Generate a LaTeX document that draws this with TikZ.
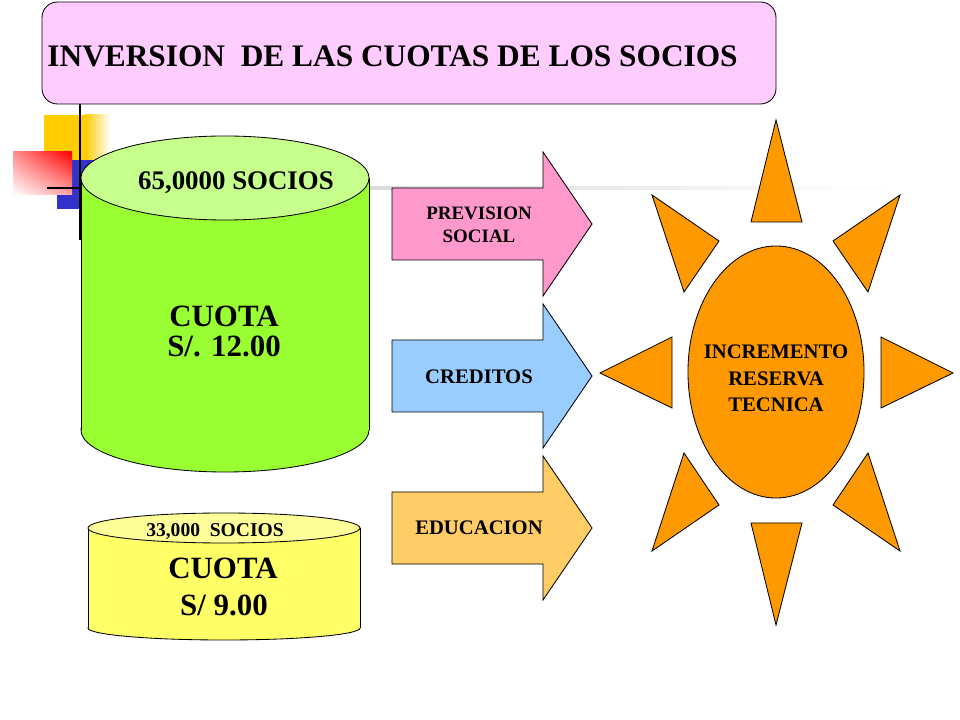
\documentclass[tikz,border=0pt]{standalone}
\usepackage{fontspec}
\setmainfont{Liberation Serif}
\usepackage{xcolor}
\usepackage{tikz}
\usetikzlibrary{shapes.geometric,shadings}

\definecolor{titlepink}{HTML}{FFCCFF}
\definecolor{cylgreen}{HTML}{99FF33}
\definecolor{cyltopgreen}{HTML}{C6FF8C}
\definecolor{cylyellow}{HTML}{FFFF66}
\definecolor{cyltopyellow}{HTML}{FFFF99}
\definecolor{arwpink}{HTML}{FF99CC}
\definecolor{arwblue}{HTML}{99CCFF}
\definecolor{arwgold}{HTML}{FFCC66}
\definecolor{sunorange}{HTML}{FF9900}
\definecolor{decoyellow}{HTML}{FFCC00}
\definecolor{decoblue}{HTML}{3333CC}

\begin{document}
\begin{tikzpicture}[x=0.025cm, y=-0.025cm, line width=0.6pt,
  txt/.style={anchor=base, inner sep=0pt},
  bigtxt/.style={txt, font=\bfseries\fontsize{22}{26}\selectfont},
  arwtxt/.style={txt, font=\bfseries\fontsize{14.7}{17}\selectfont}]
          \useasboundingbox (0,0) rectangle (960,720);

          \fill[decoyellow] (44,115) rectangle (86,160);
          \shade[left color=decoyellow, right color=white] (85,115) rectangle (110,160);
          \fill[decoblue] (57,160) rectangle (100,209);
          \shade[upper left=red!45, upper right=red, lower left=white, lower right=red!35] (13,152) rectangle (72,195);
          \shade[left color=gray!45, middle color=gray!40, right color=white] (80,186.5) rectangle (900,189.5);
          \draw[line width=1.6pt] (80,104) -- (80,240);
          \draw[line width=1.6pt] (47,188) -- (80,188);

          \filldraw[fill=titlepink, rounded corners=11pt] (42,2) rectangle (776,104);
          \node[txt, anchor=base west, font=\bfseries\fontsize{22.3}{26}\selectfont] (title) at (47,67) {INVERSION\ \ DE LAS CUOTAS DE LOS SOCIOS};

          \filldraw[fill=cylgreen] (225,430) ellipse (3.6cm and 1.05cm);
          \fill[cylgreen] (81,178) rectangle (369,430);
          \draw (81,178) -- (81,430) (369,178) -- (369,430);
          \filldraw[fill=cyltopgreen] (225,178) ellipse (3.6cm and 1.05cm);
          \node[txt, font=\bfseries\fontsize{19.1}{22}\selectfont] (socios1) at (236,190) {65,0000 SOCIOS};
          \node[bigtxt] (cuota1) at (224,327) {CUOTA};
          \node[bigtxt] (monto1) at (224,357) {S/. 12.00};

          \filldraw[fill=cylyellow] (224,628) ellipse (3.4cm and 0.3cm);
          \fill[cylyellow] (88,528) rectangle (360,628);
          \draw (88,528) -- (88,628) (360,528) -- (360,628);
          \filldraw[fill=cyltopyellow] (224,528) ellipse (3.4cm and 0.375cm);
          \node[txt, font=\bfseries\fontsize{13.9}{16}\selectfont] (socios2) at (215,537) {33,000\ \ SOCIOS};
          \node[bigtxt] (cuota2) at (223,578) {CUOTA};
          \node[bigtxt] (monto2) at (224,615) {S/ 9.00};

          \foreach \yc\col in {224/arwpink, 376/arwblue, 528/arwgold}{%
            \filldraw[fill=\col] (392,\yc-36) -- (543,\yc-36) -- (543,\yc-72) -- (592,\yc)
              -- (543,\yc+72) -- (543,\yc+36) -- (392,\yc+36) -- cycle;
          }
          \node[arwtxt, font=\bfseries\fontsize{13.5}{16}\selectfont] (prevision) at (479,220) {PREVISION};
          \node[arwtxt, font=\bfseries\fontsize{13.5}{16}\selectfont] (social) at (479,243) {SOCIAL};
          \node[arwtxt] (creditos) at (479,384) {CREDITOS};
          \node[arwtxt] (educacion) at (479,535) {EDUCACION};

          \foreach \ax\ay\bx\by\cx\cy in {751/222/776/120/802/222, 833/241/900/195/868/292,
              881/337/953/373/881/408, 868/453/900/551/833/505, 751/523/776/625/802/523,
              684/453/652/551/719/505, 672/337/600/373/672/408, 719/241/652/195/684/292}{%
            \filldraw[fill=sunorange] (\ax,\ay) -- (\bx,\by) -- (\cx,\cy) -- cycle;
          }
          \node[ellipse, draw, fill=sunorange, inner sep=0pt, minimum width=4.4cm, minimum height=6.3cm] (sun) at (776,372) {};
          \foreach \t\y [count=\i from 1] in {INCREMENTO/359, RESERVA/386, TECNICA/412}{%
            \node[arwtxt] (sun\i) at (776,\y) {\t};
          }
        \end{tikzpicture}
\end{document}
